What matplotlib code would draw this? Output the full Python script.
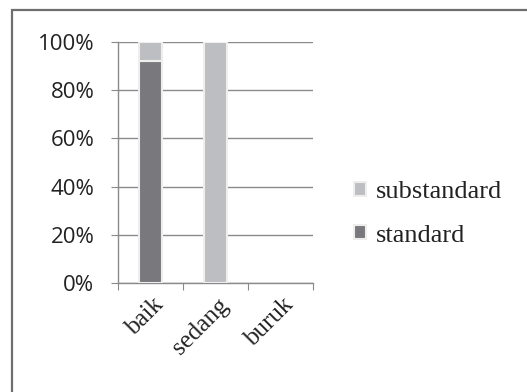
import matplotlib
matplotlib.use("Agg")
import matplotlib.pyplot as plt
from matplotlib.patches import Rectangle
import matplotlib.transforms as mtransforms
import numpy as np

categories = ["baik", "sedang", "buruk"]
standard = [92, 0, 0]
substandard = [8, 100, 0]
yticks = [0, 20, 40, 60, 80, 100]
ytick_labels = ["0%", "20%", "40%", "60%", "80%", "100%"]

W, H = 527, 392
fig = plt.figure(figsize=(W/100, H/100), dpi=100)
fig.patch.set_facecolor("white")

# outer border (top and left visible)
fig.add_artist(Rectangle((12/W, -0.05), 1.1, (H-9.5)/H + 0.05, transform=fig.transFigure,
                         fill=False, edgecolor="#6e6e6e", linewidth=1.6))

ax = fig.add_axes([118/W, 1-283/H, (313-118)/W, (283-42)/H])
x = np.arange(len(categories))
c_std = "#79797d"
c_sub = "#bdbec1"
bw = 0.36
lw_std = [1.5 if v else 0 for v in standard]
lw_sub = [1.5 if v else 0 for v in substandard]
ax.bar(x, standard, width=bw, color=c_std, edgecolor="#eeeeee", linewidth=lw_std, zorder=3, label="standard")
ax.bar(x, substandard, width=bw, bottom=standard, color=c_sub, edgecolor="#eeeeee", linewidth=lw_sub, zorder=3, label="substandard")

ax.set_xlim(-0.5, 2.5)
ax.set_ylim(0, 100)
ax.set_yticks(yticks)
ax.set_yticklabels(ytick_labels, fontsize=16, family="Open Sans", color="#222222")
ax.yaxis.grid(True, color="#8a8a8a", linewidth=1.0, zorder=0)
ax.set_axisbelow(True)
for s in ["top", "right"]:
    ax.spines[s].set_visible(False)
for s in ["left", "bottom"]:
    ax.spines[s].set_color("#8a8a8a")
    ax.spines[s].set_linewidth(1.0)
ax.tick_params(axis="y", length=5, color="#8a8a8a", pad=12)
ax.set_xticks([-0.5, 0.5, 1.5, 2.5], minor=False)
ax.set_xticklabels([])
ax.tick_params(axis="x", length=5, color="#8a8a8a", direction="out")
ax.set_xticks(x, minor=True)
ax.set_xticklabels(categories, minor=True, rotation=45, ha="right", rotation_mode="anchor",
                   fontsize=18, family="Liberation Serif", color="#222222")
ax.tick_params(axis="x", which="minor", length=0, pad=8)
offset = mtransforms.ScaledTranslation(2/100, 0, fig.dpi_scale_trans)
for lab in ax.get_xticklabels(minor=True):
    lab.set_transform(lab.get_transform() + offset)

handles, labels = ax.get_legend_handles_labels()
leg = fig.legend(handles[::-1], labels[::-1], loc="center left", bbox_to_anchor=(330/W, 1-214/H),
                 frameon=False, prop={"family": "Liberation Serif", "size": 19},
                 handlelength=0.45, handleheight=0.45, handletextpad=0.4, labelspacing=0.8)
for t in leg.get_texts():
    t.set_color("#222222")

fig.savefig("out.png", dpi=100)
